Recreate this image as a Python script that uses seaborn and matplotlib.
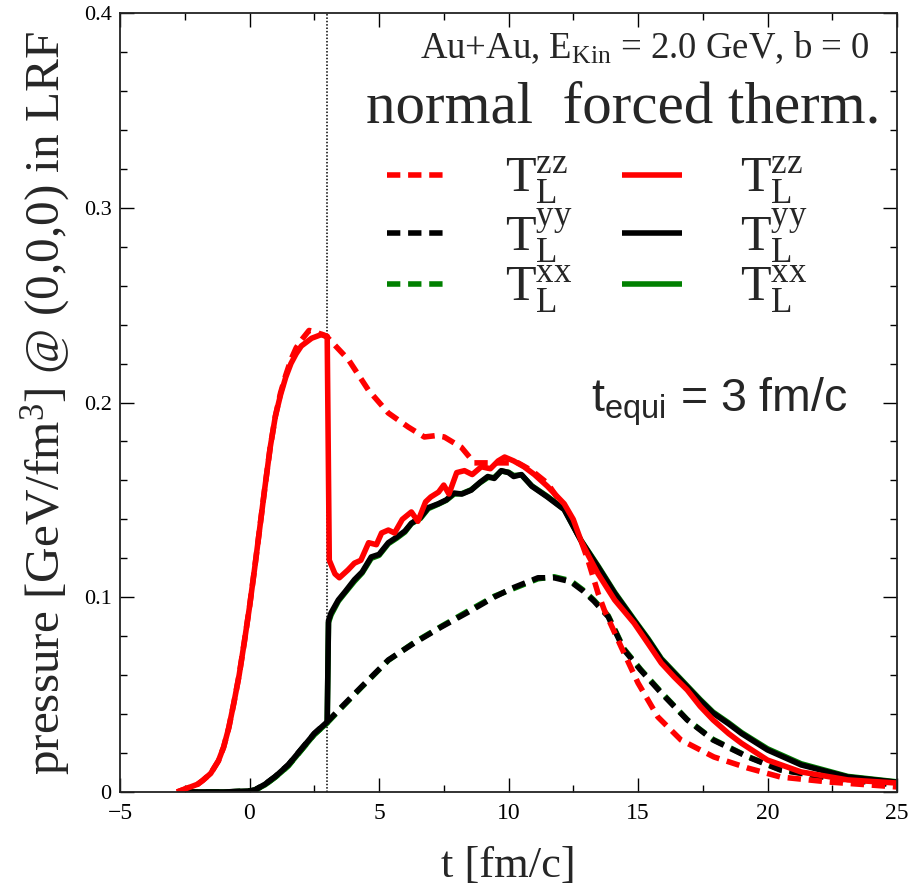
import numpy as np
import pandas as pd
import matplotlib
matplotlib.use("Agg")
import matplotlib.pyplot as plt
import seaborn as sns

# ---------------- data ----------------
# normal, T_L^zz (red dashed)
t_zz_norm = [-2.8, -2.5, -2.2, -2.0, -1.8, -1.5, -1.2, -1.0, -0.8, -0.6, -0.4, -0.2, 0.0, 0.2, 0.4, 0.6,
             0.8, 1.0, 1.2, 1.4, 1.6, 1.8, 2.0, 2.3, 2.6, 3.0,
             3.82, 4.59, 5.36, 6.13, 6.75, 7.2, 7.52, 8.18, 8.68, 9.45, 10.37, 10.9, 11.5, 12.15, 12.8,
             13.07, 13.46, 13.7, 14.35, 15.0, 15.77, 16.66, 17.93, 19.24, 20.5, 22.4, 25.0]
p_zz_norm = [0.0, 0.0015, 0.003, 0.004, 0.006, 0.0095, 0.016, 0.023, 0.033, 0.046, 0.060, 0.077, 0.095,
             0.115, 0.136, 0.157, 0.177, 0.193, 0.205, 0.214, 0.222, 0.228, 0.232, 0.237, 0.236, 0.2336,
             0.222, 0.2064, 0.1946, 0.1874, 0.1823, 0.183, 0.1823, 0.177, 0.169, 0.169, 0.169, 0.165, 0.1586,
             0.146, 0.129, 0.119, 0.102, 0.0934, 0.0745, 0.056, 0.0385, 0.0267, 0.018, 0.0123, 0.0077,
             0.0051, 0.0026]

# forced therm., T_L^zz (red solid)
t_zz_forc = [-2.8, -2.5, -2.2, -2.0, -1.8, -1.5, -1.2, -1.0, -0.8, -0.6, -0.4, -0.2, 0.0, 0.2, 0.4, 0.6,
             0.8, 1.0, 1.2, 1.4, 1.6, 1.8, 2.0, 2.4, 2.8, 3.0,
             3.08, 3.3, 3.47, 3.8, 4.05, 4.3, 4.6, 4.9, 5.1, 5.36, 5.6, 5.9, 6.25, 6.5, 6.8, 7.0, 7.3, 7.5,
             7.7, 8.0, 8.3, 8.6, 8.95, 9.3, 9.6, 9.85, 10.2, 10.6, 11.0, 11.5, 12.15, 12.5, 12.8, 13.1, 13.46,
             14.1, 14.85, 15.4, 15.9, 16.4, 16.9, 17.4, 17.9, 18.5, 19.0, 20.0, 21.3, 23.1, 25.0]
p_zz_forc = [0.0, 0.0015, 0.003, 0.004, 0.006, 0.0095, 0.016, 0.023, 0.033, 0.046, 0.060, 0.077, 0.095,
             0.115, 0.136, 0.157, 0.177, 0.193, 0.204, 0.213, 0.220, 0.225, 0.229, 0.233, 0.235, 0.234,
             0.119, 0.112, 0.110, 0.114, 0.1175, 0.119, 0.128, 0.127, 0.133, 0.1345, 0.133, 0.140, 0.1438,
             0.139, 0.149, 0.1515, 0.154, 0.1576, 0.153, 0.164, 0.165, 0.163, 0.167, 0.166, 0.170, 0.172,
             0.170, 0.167, 0.163, 0.157, 0.148, 0.140, 0.129, 0.121, 0.112, 0.0986, 0.0867, 0.076, 0.0662,
             0.059, 0.0524, 0.044, 0.037, 0.030, 0.025, 0.0164, 0.0103, 0.0062, 0.0046]

# normal, T_L^yy (black dashed)
t_yy_norm = [-2.5, -1.0, 0.0, 0.2, 0.4, 0.6, 0.8, 1.0, 1.25, 1.5, 1.75, 2.0, 2.25, 2.5, 2.75, 3.0,
             3.55, 4.32, 5.36, 6.36, 7.4, 8.45, 9.45,
             10.2, 11.14, 11.76, 12.4, 12.9, 13.3, 13.85, 14.46, 15.1, 15.9, 16.9, 17.9, 19.24, 20.5, 22.4, 25.0]
p_yy_norm = [0.0, 0.0, 0.0005, 0.001, 0.0025, 0.004, 0.006, 0.008, 0.011, 0.014, 0.018, 0.022, 0.026,
             0.030, 0.033, 0.036, 0.0436, 0.054, 0.0678,
             0.0765, 0.0847, 0.0924, 0.1001, 0.105, 0.110, 0.110, 0.108, 0.103, 0.098, 0.090, 0.073, 0.0626,
             0.0508, 0.037, 0.0267, 0.018, 0.0113, 0.0072, 0.0036]

# normal, T_L^xx (green dashed)
t_xx_norm = [-2.5, -1.0, 0.0, 0.2, 0.4, 0.6, 0.8, 1.0, 1.25, 1.5, 1.75, 2.0, 2.25, 2.5, 2.75, 3.0,
             3.55, 4.32, 5.36, 6.36, 7.4, 8.45, 9.45,
             10.2, 11.14, 11.76, 12.4, 12.9, 13.3, 13.85, 14.46, 15.1, 15.9, 16.9, 17.9, 19.24, 20.5, 22.4, 25.0]
p_xx_norm = [0.0, 0.0, 0.0004, 0.0009, 0.0023, 0.0037, 0.0057, 0.0077, 0.0105, 0.0135, 0.0175, 0.0215,
             0.0255, 0.0295, 0.0325, 0.0355, 0.0432, 0.0537,
             0.0676, 0.0768, 0.0850, 0.0930, 0.1005, 0.1045, 0.1095, 0.1105, 0.1085, 0.1035, 0.0985, 0.0905,
             0.0735, 0.0630, 0.0512, 0.0372, 0.0270, 0.0182, 0.0115, 0.0073, 0.0037]

# forced therm., T_L^yy (black solid)
t_yy_forc = [-2.5, -1.0, 0.0, 0.2, 0.4, 0.6, 0.8, 1.0, 1.25, 1.5, 1.75, 2.0, 2.25, 2.5, 2.75, 3.0,
             3.05, 3.15, 3.43, 3.7, 4.05, 4.35,
             4.7, 5.0, 5.36, 5.7, 6.0, 6.25, 6.6, 6.9, 7.29, 7.6, 7.9, 8.2, 8.56, 8.9, 9.2, 9.45, 9.72, 10.0,
             10.2, 10.5, 10.9, 11.5, 12.15, 12.8, 13.46, 14.1, 14.85, 15.4, 15.9, 16.4, 16.9, 17.4, 17.9,
             18.5, 19.0, 20.0, 21.3, 23.1, 25.0]
p_yy_forc = [0.0, 0.0, 0.0005, 0.001, 0.0025, 0.004, 0.006, 0.008, 0.011, 0.014, 0.018, 0.022, 0.026,
             0.030, 0.033, 0.036, 0.088, 0.092,
             0.0986, 0.103, 0.109, 0.113, 0.1207, 0.122, 0.128, 0.131, 0.134, 0.138, 0.141, 0.146, 0.148,
             0.150, 0.1535, 0.153, 0.155, 0.159, 0.162, 0.161, 0.165, 0.164, 0.162, 0.163, 0.157, 0.1515,
             0.145, 0.129, 0.1155, 0.102, 0.088, 0.078, 0.068, 0.061, 0.054, 0.047, 0.0405, 0.035, 0.030,
             0.0216, 0.0139, 0.0077, 0.005]

# forced therm., T_L^xx (green solid)
t_xx_forc = [-2.5, -1.0, 0.0, 0.2, 0.4, 0.6, 0.8, 1.0, 1.25, 1.5, 1.75, 2.0, 2.25, 2.5, 2.75, 3.0,
             3.05, 3.15, 3.43, 3.7, 4.05, 4.35,
             4.7, 5.0, 5.36, 5.7, 6.0, 6.25, 6.6, 6.9, 7.29, 7.6, 7.9, 8.2, 8.56, 8.9, 9.2, 9.45, 9.72, 10.0,
             10.2, 10.5, 10.9, 11.5, 12.15, 12.8, 13.46, 14.1, 14.85, 15.4, 15.9, 16.4, 16.9, 17.4, 17.9,
             18.5, 19.0, 20.0, 21.3, 23.1, 25.0]
p_xx_forc = [0.0, 0.0, 0.0004, 0.0009, 0.0023, 0.0037, 0.0057, 0.0077, 0.0105, 0.0135, 0.0175, 0.0215,
             0.0255, 0.0295, 0.0325, 0.0355, 0.087,
             0.091, 0.0980, 0.1025, 0.1082, 0.1125, 0.1200, 0.1215, 0.1275, 0.1305, 0.1335, 0.1378, 0.1405,
             0.1455, 0.1478, 0.1498, 0.1530, 0.1532, 0.1552, 0.1588, 0.1615, 0.1615, 0.1648, 0.1642, 0.1625,
             0.1628, 0.1572, 0.1518, 0.1452, 0.1292, 0.1160, 0.1025, 0.0885, 0.0785, 0.0685, 0.0615, 0.0545,
             0.0475, 0.0410, 0.0355, 0.0305, 0.0222, 0.0145, 0.0080, 0.0052]

labels = {"zz": r"$\mathrm{T}_{\mathrm{L}}^{\mathrm{zz}}$",
          "yy": r"$\mathrm{T}_{\mathrm{L}}^{\mathrm{yy}}$",
          "xx": r"$\mathrm{T}_{\mathrm{L}}^{\mathrm{xx}}$"}
t_equi = 3.0

# ---------------- style ----------------
sns.set_theme(style="ticks")
plt.rcParams["font.family"] = ["Liberation Serif", "DejaVu Serif"]
plt.rcParams["mathtext.fontset"] = "custom"
plt.rcParams["mathtext.rm"] = "Liberation Serif"
plt.rcParams["mathtext.it"] = "Liberation Serif:italic"
plt.rcParams["mathtext.bf"] = "Liberation Serif:bold"
plt.rcParams["mathtext.sf"] = "Liberation Sans"

fig = plt.figure(figsize=(9.08, 8.94), dpi=100)
ax = fig.add_axes([120 / 908, 1 - 792 / 894, (897 - 120) / 908, (792 - 13) / 894])

LW = 4.0
DASH = (2.4, 1.4)
GREEN = "#008000"

series = [
    (t_xx_norm, p_xx_norm, GREEN, True, "xx"),
    (t_yy_norm, p_yy_norm, "black", True, "yy"),
    (t_zz_norm, p_zz_norm, "red", True, "zz"),
    (t_xx_forc, p_xx_forc, GREEN, False, "xx"),
    (t_yy_forc, p_yy_forc, "black", False, "yy"),
    (t_zz_forc, p_zz_forc, "red", False, "zz"),
]
handles = {}
for t, p, col, dashed, comp in series:
    df = pd.DataFrame({"t": t, "p": p})
    sns.lineplot(data=df, x="t", y="p", ax=ax, color=col, linewidth=LW, legend=False,
                 sort=False, estimator=None)
    ln = ax.lines[-1]
    if dashed:
        ln.set_dashes(DASH)
    ln.set_solid_capstyle("butt")
    ln.set_dash_capstyle("butt")
    handles[(comp, dashed)] = ln

ax.axvline(t_equi, color="black", linestyle=(0, (1, 1.2)), linewidth=1.1, zorder=0)

ax.set_xlim(-5, 25)
ax.set_ylim(0, 0.4)
ax.set_xticks([-5, 0, 5, 10, 15, 20, 25])
ax.set_xticklabels(["\u22125", "0", "5", "10", "15", "20", "25"])
ax.set_yticks([0, 0.1, 0.2, 0.3, 0.4])
ax.set_yticklabels(["0", "0.1", "0.2", "0.3", "0.4"])
ax.set_xticks(np.arange(-5, 25.01, 2.5), minor=True)
ax.set_yticks(np.arange(0, 0.401, 0.02), minor=True)
ax.tick_params(which="both", direction="in", top=True, right=True, colors="black")
ax.tick_params(which="major", length=10, width=1.0)
ax.tick_params(which="minor", length=5, width=1.0)
ax.tick_params(axis="x", labelsize=17, pad=8)
ax.tick_params(axis="y", labelsize=16, pad=6)
for s in ax.spines.values():
    s.set_linewidth(1.3)
    s.set_color("#222222")

ax.set_xlabel("t [fm/c]", fontsize=32, labelpad=16)
ax.set_ylabel(r"pressure [GeV/fm$^{\mathrm{3}}$] @ (0,0,0) in LRF", fontsize=35.5, labelpad=8)

ax.text(0.965, 0.942, r"Au+Au, $\mathrm{E_{Kin}}$ = 2.0 GeV, b = 0", transform=ax.transAxes,
        ha="right", va="baseline", fontsize=26.5)
ax.text(0.978, 0.859, "normal  forced therm.", transform=ax.transAxes,
        ha="right", va="baseline", fontsize=42.5)
ax.text(0.936, 0.488, r"$\mathsf{t_{equi}}$ = 3 fm/c", transform=ax.transAxes,
        ha="right", va="baseline", fontsize=33.5, family=["Liberation Sans", "DejaVu Sans"])

order = [("zz", True), ("yy", True), ("xx", True), ("zz", False), ("yy", False), ("xx", False)]
leg = ax.legend([handles[k] for k in order], [labels[k[0]] for k in order], ncol=2,
                loc="upper left", bbox_to_anchor=(0.318, 0.842), frameon=False,
                fontsize=36, handlelength=1.2, handletextpad=1.15, columnspacing=1.0,
                labelspacing=-0.02, borderaxespad=0)

fig.savefig("out.png", dpi=100)
